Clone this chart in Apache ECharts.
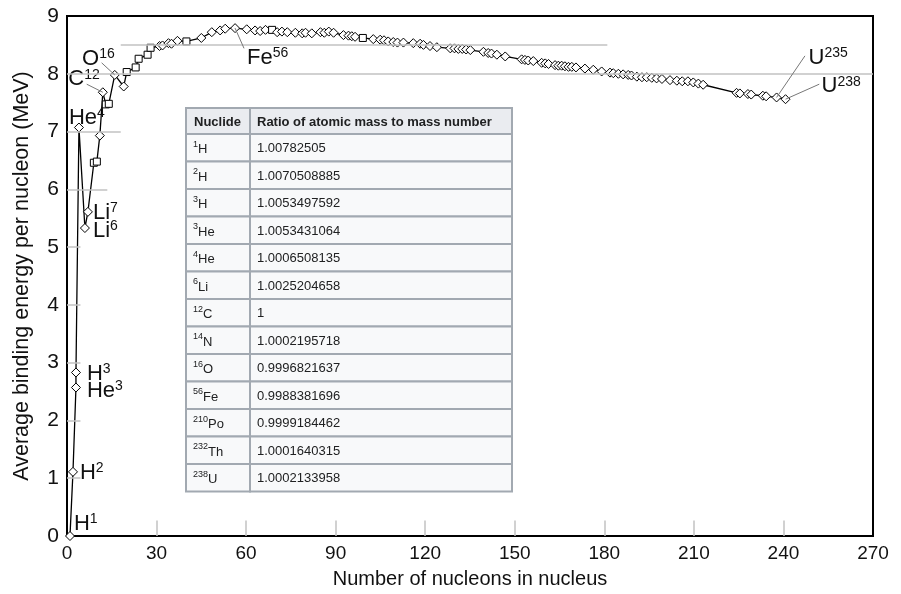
<!DOCTYPE html>
<html>
<head>
<meta charset="utf-8">
<script src="https://cdn.jsdelivr.net/npm/echarts@6/dist/echarts.min.js"></script>
<style>
html, body { margin: 0; padding: 0; background: #fff; }
#chart { width: 901px; height: 594px; }
</style>
</head>
<body>
<div id="chart"></div>
<script>
// mass number of each plotted nuclide
var massNumber = [1, 2, 3, 3, 4, 6, 7, 9, 10, 11,
    12, 13, 14, 16, 19, 20, 23, 24, 27, 28,
    31, 32, 34, 35, 37, 40, 45, 48.5, 51.3, 53,
    56.3, 60.2, 63, 64.7, 66.5, 68.7, 70.4, 72, 73.8, 76.5,
    78.8, 79.9, 82, 84.9, 86.2, 87.7, 89.3, 92.6, 94.3, 95.4,
    96.5, 99.1, 102.6, 104.9, 106.2, 107.6, 109.3, 110.7, 112.7, 116,
    118.3, 119.4, 121.6, 123.9, 128.4, 129.8, 131.1, 132.4, 133.7, 135.1,
    139.5, 141.1, 142.2, 144, 146.8, 152.3, 153.4, 154.5, 156.2, 159,
    160.2, 161.3, 163.5, 164.6, 165.7, 166.8, 168, 169.1, 170.5, 173.5,
    176.3, 179.1, 181.9, 183, 184.7, 186.3, 188, 189.1, 190.9, 192.6,
    194.2, 195.9, 197.5, 199.3, 202, 204.3, 206.1, 208, 209.8, 211.5,
    213.1, 224.3, 225.4, 228.1, 229.2, 233.1, 234.2, 237.7, 240.7]
// average binding energy per nucleon (MeV)
var bindingEnergy = [0.00, 1.11, 2.57, 2.83, 7.07, 5.33, 5.61, 6.46, 6.48, 6.93,
    7.68, 7.47, 7.48, 7.98, 7.78, 8.03, 8.11, 8.26, 8.33, 8.45,
    8.48, 8.49, 8.53, 8.52, 8.57, 8.56, 8.62, 8.72, 8.75, 8.78,
    8.79, 8.77, 8.75, 8.74, 8.76, 8.76, 8.72, 8.73, 8.72, 8.71,
    8.70, 8.71, 8.70, 8.72, 8.71, 8.73, 8.71, 8.67, 8.66, 8.65,
    8.64, 8.62, 8.60, 8.59, 8.58, 8.56, 8.55, 8.54, 8.54, 8.53,
    8.52, 8.50, 8.48, 8.46, 8.44, 8.44, 8.43, 8.43, 8.42, 8.41,
    8.38, 8.36, 8.35, 8.33, 8.30, 8.25, 8.24, 8.23, 8.22, 8.19,
    8.18, 8.17, 8.15, 8.14, 8.14, 8.13, 8.12, 8.12, 8.11, 8.09,
    8.07, 8.04, 8.02, 8.01, 8.00, 7.99, 7.98, 7.97, 7.95, 7.94,
    7.94, 7.93, 7.92, 7.91, 7.89, 7.88, 7.87, 7.87, 7.85, 7.83,
    7.81, 7.67, 7.66, 7.65, 7.64, 7.62, 7.61, 7.59, 7.56]
// these ones are drawn as squares, the rest as diamonds
var squareAt = [9, 10, 13, 14, 20, 23, 24, 27, 28, 40, 68.7, 99.1]

// named points (negative index = counted from the end)
var tagPoint = [0, 1, 2, 3, 4, 5, 6, 10, 13, 30, -2, -1]
var tagElement = ['H', 'H', 'He', 'H', 'He', 'Li', 'Li', 'C', 'O', 'Fe', 'U', 'U']
var tagMass = ['1', '2', '3', '3', '4', '6', '7', '12', '16', '56', '235', '238']

var xTicks = [0, 30, 60, 90, 120, 150, 180, 210, 240, 270]
var yTicks = [0, 1, 2, 3, 4, 5, 6, 7, 8, 9]

// table
var tableMass = ['1', '2', '3', '3', '4', '6', '12', '14', '16', '56', '210', '232', '238']
var tableElement = ['H', 'H', 'H', 'He', 'He', 'Li', 'C', 'N', 'O', 'Fe', 'Po', 'Th', 'U']
var tableRatio = ['1.00782505', '1.0070508885', '1.0053497592', '1.0053431064', '1.0006508135',
    '1.0025204658', '1', '1.0002195718', '0.9996821637', '0.9988381696', '0.9999184462',
    '1.0001640315', '1.0002133958']

var FONT = '"Liberation Sans", Arial, Helvetica, sans-serif'

// where each name sits next to its point: [position, offset]
var tagPlace = [
    ['right', [-1, -12]],
    ['right', [2, 1]],
    ['right', [6, 3]],
    ['right', [6, 1]],
    ['right', [-15, -10]],
    ['right', [3, 3]],
    ['right', [0, 1]],
    ['left', [2, -13]],
    ['left', [5, -16]],
    ['right', [7, 30]],
    ['right', [27, -40]],
    ['right', [31, -13]]
]

var points = massNumber.map(function (a, i) {
    var item = { value: [a, bindingEnergy[i]] }
    if (squareAt.indexOf(a) >= 0) {
        item.symbol = 'rect'
        item.symbolSize = 7
    }
    return item
})
tagPoint.forEach(function (p, k) {
    var i = p < 0 ? points.length + p : p
    points[i].label = {
        show: true,
        formatter: '{m|' + tagElement[k] + '}{s|' + tagMass[k] + '}',
        position: tagPlace[k][0],
        offset: tagPlace[k][1],
        distance: 0
    }
})

// grey guide bits: short stubs at the left and bottom, two long lines near the top
var guides = []
yTicks.slice(1, 6).forEach(function (v) { guides.push([[0, v], [4.5, v]]) })
guides.push([[0, 6], [13.5, 6]])
guides.push([[0, 7], [18, 7]])
guides.push([[0, 8], [270, 8]])
guides.push([[18, 8.5], [181, 8.5]])
xTicks.slice(1, -1).forEach(function (v) { guides.push([[v, 0], [v, 0.27]]) })

// leader lines from names to points
var leaders = [
    [[6.6, 7.82], [12, 7.68]],
    [[11.6, 8.19], [16, 7.98]],
    [[56.3, 8.79], [59.3, 8.44]],
    [[247.2, 8.31], [237.7, 7.59]],
    [[252, 7.82], [240.7, 7.56]]
]

function segs(list) {
    return list.map(function (s) { return [{ coord: s[0] }, { coord: s[1] }] })
}

// table drawn with graphic elements
var tLeft = 186, tTop = 108, headH = 26, rowH = 27.5, col1 = 64, col2 = 262
var cells = []
function cell(x, y, w, h, fill) {
    cells.push({
        type: 'rect', silent: true,
        shape: { x: x, y: y, width: w, height: h },
        style: { fill: fill, stroke: '#a2a9b1', lineWidth: 2 }
    })
}
function txt(x, y, text, bold, rich) {
    cells.push({
        type: 'text', silent: true, x: x, y: y,
        style: {
            text: text, fill: '#202122', fontFamily: FONT, fontSize: 13,
            fontWeight: bold ? 'bold' : 'normal', verticalAlign: 'middle', rich: rich
        }
    })
}
var supRich = {
    s: { fontSize: 9, fontFamily: FONT, padding: [0, 0, 7, 0] },
    n: { fontSize: 13, fontFamily: FONT, padding: [4, 0, 0, 0] }
}
cell(tLeft, tTop, col1, headH, '#eaecf0')
cell(tLeft + col1, tTop, col2, headH, '#eaecf0')
txt(tLeft + 8, tTop + headH / 2 + 1, 'Nuclide', true)
txt(tLeft + col1 + 7, tTop + headH / 2 + 1, 'Ratio of atomic mass to mass number', true)
tableRatio.forEach(function (r, i) {
    var y = tTop + headH + i * rowH
    cell(tLeft, y, col1, rowH, '#f8f9fa')
    cell(tLeft + col1, y, col2, rowH, '#f8f9fa')
    txt(tLeft + 7, y + rowH / 2, '{s|' + tableMass[i] + '}{n|' + tableElement[i] + '}', false, supRich)
    txt(tLeft + col1 + 7, y + rowH / 2 + 1, r, false)
})

var chart = echarts.init(document.getElementById('chart'))
chart.setOption({
    animation: false,
    textStyle: { fontFamily: FONT },
    grid: {
        left: 67, right: 28, top: 16, bottom: 58,
        show: true, borderColor: '#000', borderWidth: 2
    },
    xAxis: {
        type: 'value', min: 0, max: 270, interval: 30,
        name: 'Number of nucleons in nucleus', nameLocation: 'middle', nameGap: 33,
        nameTextStyle: { fontSize: 20, color: '#111' },
        axisLine: { lineStyle: { color: '#000', width: 2 } },
        axisTick: { show: false },
        splitLine: { show: false },
        axisLabel: { fontSize: 19, color: '#111', margin: 8 }
    },
    yAxis: {
        type: 'value', min: 0, max: 9, interval: 1,
        name: 'Average binding energy per nucleon (MeV)', nameLocation: 'middle', nameGap: 34,
        nameTextStyle: { fontSize: 21.5, color: '#111' },
        axisLine: { lineStyle: { color: '#000', width: 2 } },
        axisTick: { show: false },
        splitLine: { show: false },
        axisLabel: { fontSize: 21, color: '#111', margin: 8 }
    },
    series: [
        {
            type: 'line', data: [], z: 1, silent: true,
            markLine: {
                silent: true, symbol: ['none', 'none'], label: { show: false },
                lineStyle: { color: '#c2c2c2', width: 1.5, type: 'solid' },
                data: segs(guides)
            }
        },
        {
            type: 'line', data: [], z: 2, silent: true,
            markLine: {
                silent: true, symbol: ['none', 'none'], label: { show: false },
                lineStyle: { color: '#777', width: 1, type: 'solid' },
                data: segs(leaders)
            }
        },
        {
            type: 'line', z: 3,
            data: points,
            symbol: 'diamond', symbolSize: 9, showAllSymbol: true,
            lineStyle: { color: '#000', width: 1.3 },
            itemStyle: { color: '#fff', borderColor: '#000', borderWidth: 1 },
            emphasis: { disabled: true },
            label: {
                show: false, color: '#111',
                rich: {
                    m: { fontSize: 22, fontFamily: FONT, color: '#111' },
                    s: { fontSize: 14, fontFamily: FONT, color: '#111', padding: [0, 0, 9, 0] }
                }
            }
        }
    ],
    graphic: { elements: [{ type: 'group', z: 10, children: cells }] }
})
</script>
</body>
</html>
